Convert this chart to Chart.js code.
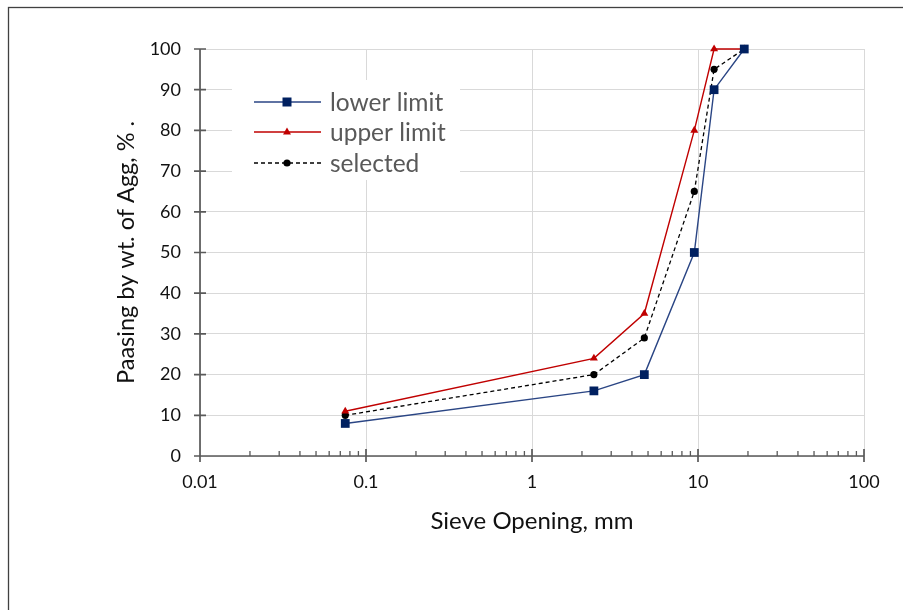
<!DOCTYPE html>
<html><head><meta charset="utf-8">
<script src="https://cdn.jsdelivr.net/npm/chart.js@4.4.1/dist/chart.umd.min.js"></script>
<style>html,body{margin:0;padding:0;background:#fff;} #wrap{position:relative;width:903px;height:610px;}</style>
</head><body><div id="wrap"><canvas id="c" width="903" height="610"></canvas></div>
<script>
// ---- data ----
const sieveSizes = [0.075, 2.36, 4.75, 9.5, 12.5, 19];
const lowerLimit = [8, 16, 20, 50, 90, 100];
const upperLimit = [11, 24, 35, 80, 100, 100];
const selectedGrad = [10, 20, 29, 65, 95, 100];
const xDecades = [0.01, 0.1, 1, 10, 100];
const yTickValues = [0, 10, 20, 30, 40, 50, 60, 70, 80, 90, 100];
const seriesNames = ['lower limit', 'upper limit', 'selected'];
const xTitle = 'Sieve Opening, mm';
const yTitle = 'Paasing by wt. of Agg, % .';

const FONT = 'Lato, "Open Sans", sans-serif';
const AXIS = '#595959';

function pts(vals){ return sieveSizes.map((x,i)=>({x:x, y:vals[i]})); }
function isDecade(v){ const l=Math.log10(v); return Math.abs(l-Math.round(l))<1e-6; }

const styles = [
  {line:'#2a4584', fill:'#002060', shape:'rect', r:6.2, dash:[]},
  {line:'#c00000', fill:'#c00000', shape:'triangle', r:4.6, dash:[]},
  {line:'#000000', fill:'#000000', shape:'circle', r:3.6, dash:[4,3]}
];
const seriesData = [lowerLimit, upperLimit, selectedGrad];

const frameAxes = {
  id:'frameAxes',
  beforeDraw(chart){
    const c = chart.ctx;
    c.save(); c.strokeStyle='#404040'; c.lineWidth=1.3;
    c.strokeRect(8.5, 7.5, 2000, 2000); c.restore();
  },
  beforeDatasetsDraw(chart){
    const c = chart.ctx, a = chart.chartArea;
    const xs = chart.scales.x, ys = chart.scales.y;
    c.save();
    c.strokeStyle = AXIS; c.lineWidth = 1.7;
    c.beginPath();
    c.moveTo(a.left, a.top); c.lineTo(a.left, a.bottom);
    c.moveTo(a.left, a.bottom); c.lineTo(a.right, a.bottom);
    yTickValues.forEach(v=>{ const y=ys.getPixelForValue(v); c.moveTo(a.left-6,y); c.lineTo(a.left+6,y); });
    xDecades.forEach(v=>{ const x=xs.getPixelForValue(v); c.moveTo(x,a.bottom-7); c.lineTo(x,a.bottom+6); });
    c.stroke();
    c.lineWidth = 1.3; c.beginPath();
    for (let d=0; d<xDecades.length-1; d++){
      for (let m=2; m<=9; m++){
        const x = xs.getPixelForValue(xDecades[d]*m);
        c.moveTo(x, a.bottom-5); c.lineTo(x, a.bottom);
      }
    }
    c.stroke();
    c.restore();
  },
  afterDatasetsDraw(chart){
    const c = chart.ctx;
    c.save();
    // legend
    c.fillStyle='#fff'; c.fillRect(232, 80, 228, 100);
    c.font = '24.5px ' + FONT; c.textBaseline='middle'; c.textAlign='left';
    const rows=[102,132,163];
    styles.forEach((s,i)=>{
      const y=rows[i];
      c.strokeStyle=s.line; c.lineWidth = i===2?1.3:1.5; c.setLineDash(s.dash);
      c.beginPath(); c.moveTo(254,y); c.lineTo(321,y); c.stroke(); c.setLineDash([]);
      c.fillStyle=s.fill; c.beginPath();
      if (s.shape==='rect'){ c.rect(287-4.5,y-4.5,9,9); }
      else if (s.shape==='triangle'){ c.moveTo(287,y-4.5); c.lineTo(291,y+2.5); c.lineTo(283,y+2.5); c.closePath(); }
      else { c.arc(287,y,3.6,0,Math.PI*2); }
      c.fill();
      c.fillStyle='#595959'; c.fillText(seriesNames[i], 330, y+1);
    });
    c.restore();
  }
};

const datasets = seriesData.map((vals,i)=>({
  label: seriesNames[i],
  data: pts(vals),
  showLine: true,
  clip: false,
  borderColor: styles[i].line,
  borderWidth: i===2 ? 1.3 : 1.4,
  borderDash: styles[i].dash,
  pointStyle: styles[i].shape,
  pointRadius: styles[i].r,
  pointBackgroundColor: styles[i].fill,
  pointBorderColor: styles[i].fill,
  pointBorderWidth: 0,
  tension: 0
}));

new Chart(document.getElementById('c'), {
  type: 'scatter',
  data: { datasets },
  plugins: [frameAxes],
  options: {
    responsive: false, animation: false,
    layout: { padding: { left: 105, top: 49, right: 39, bottom: 60 } },
    plugins: { legend: { display: false }, tooltip: { enabled: false } },
    scales: {
      x: {
        type: 'logarithmic', min: 0.01, max: 100,
        afterFit(s){ s.height = 94; s.paddingLeft = 0; s.paddingRight = 0; },
        afterBuildTicks(s){ s.ticks = xDecades.map(v=>({value:v, major:true})); },
        ticks: { autoSkip:false, maxRotation:0, padding: 15, color:'#111',
          font:{family:FONT, size:18},
          callback(v){ return isDecade(v) ? String(Math.pow(10, Math.round(Math.log10(v)))) : ''; } },
        grid: { color: '#d9d9d9', lineWidth: 1, drawTicks: false },
        border: { display: false },
        title: { display: true, text: xTitle, color:'#111', font:{family:FONT, size:24}, padding:{top:0, bottom:14.5} }
      },
      y: {
        min: 0, max: 100,
        afterFit(s){ s.width = 95; s.paddingTop = 0; s.paddingBottom = 0; },
        afterBuildTicks(s){ s.ticks = yTickValues.map(v=>({value:v})); },
        ticks: { padding: 19, color:'#111', font:{family:FONT, size:18} },
        grid: { color: '#d9d9d9', lineWidth: 1, drawTicks: false },
        border: { display: false },
        title: { display: true, text: yTitle, color:'#111', font:{family:FONT, size:23.5}, padding:{top:7.5, bottom:0} }
      }
    }
  }
});
</script></body></html>
